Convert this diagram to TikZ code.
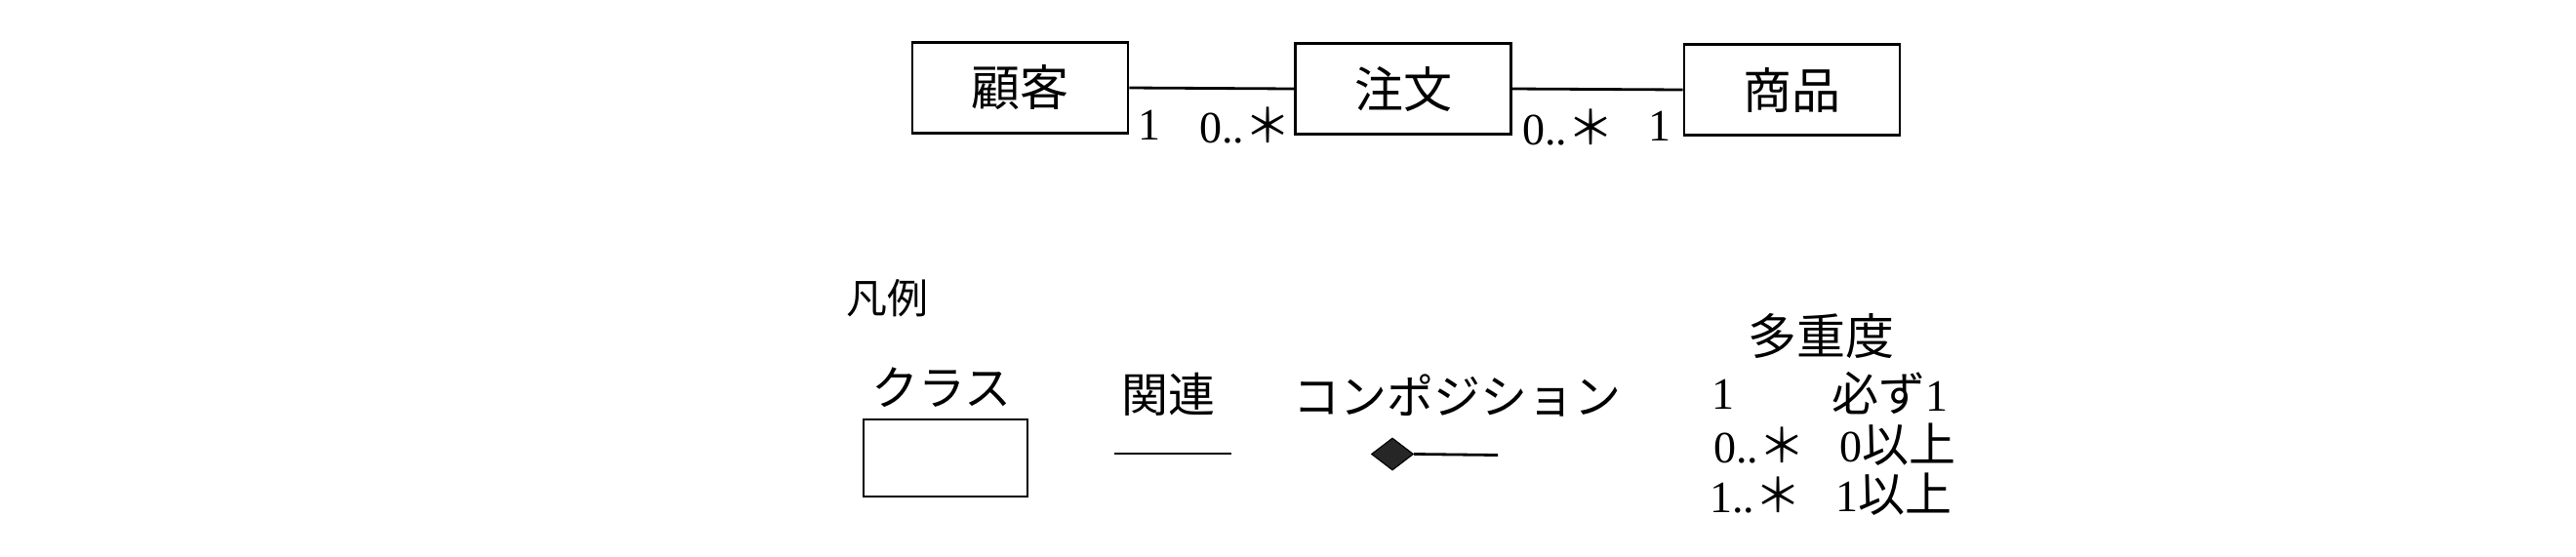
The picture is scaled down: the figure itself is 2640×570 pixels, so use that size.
\documentclass[tikz,border=0pt]{standalone}
\usepackage{fontspec}
\setmainfont{Liberation Serif}
\newfontfamily\cjk{Noto Sans CJK JP}
\usetikzlibrary{shapes.geometric}
\newcommand{\jast}{{\cjk\fontsize{24}{28}\selectfont ＊}}
\newcommand{\jtxt}[1]{{\cjk\fontsize{24}{28}\selectfont #1}}
\begin{document}
\begin{tikzpicture}[x=0.5pt,y=-0.5pt,
  cls/.style={draw, line width=1.45pt, minimum width=110.5pt, minimum height=46.5pt, inner sep=0pt, font=\cjk\fontsize{25}{30}\selectfont},
  assoc/.style={line width=1.4pt},
  mult/.style={inner sep=0pt, font=\fontsize{23}{27}\selectfont},
  lgtext/.style={inner sep=0pt, font=\cjk\fontsize{24}{28}\selectfont},
  lgrow/.style={inner sep=0pt, anchor=west, font=\fontsize{23}{27}\selectfont}]
\useasboundingbox (0,0) rectangle (2640,570);
% classes
\node[cls] (kokyaku) at (1045.5,90) {顧客};
\node[cls] (chumon) at (1438,91) {注文};
\node[cls] (shohin) at (1836.5,92) {商品};
\draw[assoc] (kokyaku.east) -- (chumon.west);
\draw[assoc] (chumon.east) -- (shohin.west);
\node[mult] (m1) at (1178,128) {1};
\node[mult] (m2) at (1276,129) {0..\jast};
\node[mult] (m3) at (1607,131) {0..\jast};
\node[mult] (m4) at (1701,129) {1};
% legend
\node[inner sep=0pt, font=\cjk\fontsize{21}{25}\selectfont] (hanrei) at (909,306) {凡例};
\node[lgtext] (lclass) at (965,397) {クラス};
\node[draw, line width=1.45pt, minimum width=84pt, minimum height=39.5pt, inner sep=0pt] (lbox) at (969,469.5) {};
\node[lgtext] (lassoc) at (1197,404) {関連};
\coordinate (la1) at (1142,465);
\coordinate (la2) at (1262,465);
\draw[assoc] (la1) -- (la2);
\node[lgtext] (lcomp) at (1493,405) {コンポジション};
\node[diamond, draw, fill=black!85, line width=0.6pt, inner sep=0pt, minimum width=21.5pt, minimum height=16.5pt] (ldia) at (1427,465.5) {};
\coordinate (lc2) at (1535,466.5);
\draw[assoc] (ldia.east) -- (lc2);
\node[lgtext, font=\cjk\fontsize{25}{30}\selectfont] (ltajudo) at (1866,344) {多重度};
\node[lgrow] (r1a) at (1754,404) {1};
\node[lgrow] (r1b) at (1877,403) {\jtxt{必ず}1};
\node[lgrow] (r2a) at (1756,456) {0..\jast};
\node[lgrow] (r2b) at (1885,456) {0\jtxt{以上}};
\node[lgrow] (r3a) at (1752,507) {1..\jast};
\node[lgrow] (r3b) at (1881,507) {1\jtxt{以上}};
\end{tikzpicture}
\end{document}
